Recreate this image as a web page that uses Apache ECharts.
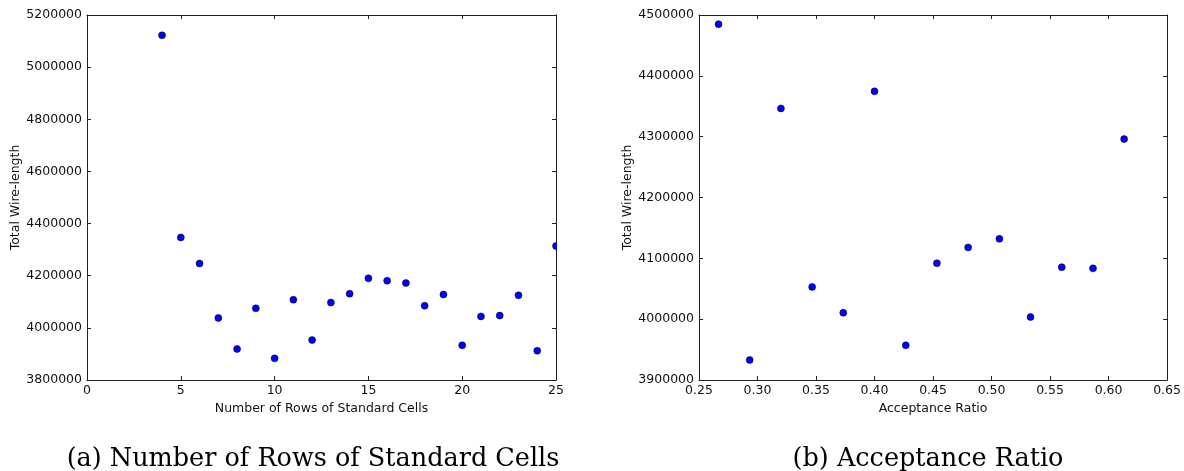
<!DOCTYPE html>
<html>
<head>
<meta charset="utf-8">
<script src="https://cdn.jsdelivr.net/npm/echarts@6/dist/echarts.min.js"></script>
<style>
html,body{margin:0;padding:0;background:#fff;}
#chart{width:1184px;height:471px;}
</style>
</head>
<body>
<div id="chart"></div>
<script>
// Panel (a): number of rows vs total wire-length
const rowsX = [4, 5, 6, 7, 8, 9, 10, 11, 12, 13, 14, 15, 16, 17, 18, 19, 20, 21, 22, 23, 24, 25];
const rowsY = [5122000, 4347000, 4247000, 4038000, 3919000, 4075000, 3883000, 4108000, 3953000, 4097000, 4131000,
               4190000, 4181000, 4172000, 4085000, 4128000, 3933000, 4044000, 4047000, 4125000, 3912000, 4314000];
// Panel (b): acceptance ratio vs total wire-length
const ratioX = [0.2667, 0.2933, 0.32, 0.3467, 0.3733, 0.40, 0.4267, 0.4533, 0.48, 0.5067, 0.5333, 0.56, 0.5867, 0.6133];
const ratioY = [4485000, 3933000, 4346500, 4053000, 4010500, 4374500, 3957000, 4092000, 4118000, 4132000, 4003500,
                4085500, 4083500, 4296000];

const leftXTicks = {min: 0, max: 25, interval: 5};
const leftYTicks = {min: 3800000, max: 5200000, interval: 200000};
const rightXTicks = {min: 0.25, max: 0.65, interval: 0.05};
const rightYTicks = {min: 3900000, max: 4500000, interval: 100000};

const xNameA = 'Number of Rows of Standard Cells';
const xNameB = 'Acceptance Ratio';
const yName = 'Total Wire-length';
const captionA = '(a) Number of Rows of Standard Cells';
const captionB = '(b) Acceptance Ratio';

const FONT = 'DejaVu Sans';
const lineStyle = {color: '#222', width: 1};
const labelStyle = {color: '#111', fontFamily: FONT, fontSize: 12.5};

function xAxes(grid, t, name, fmt) {
  return [
    {type: 'value', gridIndex: grid, position: 'bottom', min: t.min, max: t.max, interval: t.interval,
     name: name, nameLocation: 'middle', nameGap: 20,
     nameTextStyle: {color: '#111', fontFamily: FONT, fontSize: 12.5},
     axisLine: {show: true, onZero: false, lineStyle: lineStyle},
     axisTick: {show: true, inside: true, length: 4, lineStyle: lineStyle},
     axisLabel: Object.assign({margin: 4, formatter: fmt}, labelStyle),
     splitLine: {show: false}},
    {type: 'value', gridIndex: grid, position: 'top', min: t.min, max: t.max, interval: t.interval,
     axisLine: {show: true, onZero: false, lineStyle: lineStyle},
     axisTick: {show: true, inside: true, length: 4, lineStyle: lineStyle},
     axisLabel: {show: false}, splitLine: {show: false}}
  ];
}
function yAxes(grid, t) {
  return [
    {type: 'value', gridIndex: grid, position: 'left', min: t.min, max: t.max, interval: t.interval,
     name: yName, nameLocation: 'middle', nameGap: 65,
     nameTextStyle: {color: '#111', fontFamily: FONT, fontSize: 12.5},
     axisLine: {show: true, onZero: false, lineStyle: lineStyle},
     axisTick: {show: true, inside: true, length: 4, lineStyle: lineStyle},
     axisLabel: Object.assign({margin: 5, formatter: v => String(v)}, labelStyle),
     splitLine: {show: false}},
    {type: 'value', gridIndex: grid, position: 'right', min: t.min, max: t.max, interval: t.interval,
     axisLine: {show: true, onZero: false, lineStyle: lineStyle},
     axisTick: {show: true, inside: true, length: 4, lineStyle: lineStyle},
     axisLabel: {show: false}, splitLine: {show: false}}
  ];
}

const captionStyle = {fontFamily: 'DejaVu Serif', fontSize: 25.5, fontWeight: 'normal', color: '#000'};

const chart = echarts.init(document.getElementById('chart'), null, {renderer: 'canvas'});
chart.setOption({
  animation: false,
  backgroundColor: '#fff',
  title: [
    {text: captionA, left: 308, top: 441, textAlign: 'center', textStyle: captionStyle},
    {text: captionB, left: 923, top: 441, textAlign: 'center', textStyle: captionStyle}
  ],
  grid: [
    {left: 87, top: 15, width: 469, height: 365, containLabel: false},
    {left: 699, top: 15, width: 470, height: 365, containLabel: false}
  ],
  xAxis: [].concat(xAxes(0, leftXTicks, xNameA, v => String(v)),
                   xAxes(1, rightXTicks, xNameB, v => v.toFixed(2))),
  yAxis: [].concat(yAxes(0, leftYTicks), yAxes(1, rightYTicks)),
  // mask outside the right frame of panel (a) so the edge point is clipped like the original
  graphic: [
    {type: 'rect', shape: {x: 557, y: 17, width: 8, height: 360}, style: {fill: '#fff'}, z: 100, silent: true}
  ],
  series: [
    {type: 'scatter', xAxisIndex: 0, yAxisIndex: 0, symbol: 'circle', symbolSize: 7,
     itemStyle: {color: '#0000ff', opacity: 1, borderColor: '#000', borderWidth: 0.5},
     data: rowsX.map((x, i) => [x, rowsY[i]])},
    {type: 'scatter', xAxisIndex: 2, yAxisIndex: 2, symbol: 'circle', symbolSize: 7,
     itemStyle: {color: '#0000ff', opacity: 1, borderColor: '#000', borderWidth: 0.5},
     data: ratioX.map((x, i) => [x, ratioY[i]])}
  ]
});
</script>
</body>
</html>
